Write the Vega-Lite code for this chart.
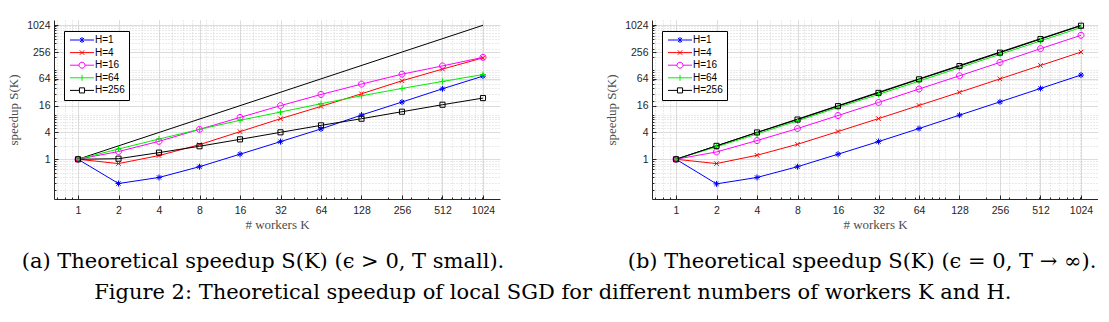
{
  "$schema": "https://vega.github.io/schema/vega-lite/v6.json",
  "background": "white",
  "padding": {"left": 7, "top": 20, "right": 0, "bottom": 0},
  "bounds": "flush",
  "spacing": 152,
  "title": {"text": "Figure 2: Theoretical speedup of local SGD for different numbers of workers K and H.", "orient": "bottom", "anchor": "middle", "frame": "bounds", "dx": 0, "offset": 10, "font": "DejaVu Serif", "fontSize": 21, "fontWeight": "normal", "color": "#000000"},
  "config": {
    "view": {"stroke": null},
    "axis": {"labelFont": "Liberation Sans", "labelFontSize": 10.5, "labelColor": "#262626", "titleFont": "Liberation Serif", "titleFontSize": 13, "titleFontWeight": "normal", "titleColor": "#4d4d4d", "domainColor": "#262626", "tickColor": "#262626"},
    "legend": {"labelFont": "Liberation Sans", "labelFontSize": 10, "labelColor": "#000000"}
  },
  "resolve": {"legend": {"color": "independent", "shape": "independent"}},
  "datasets": {
    "ideal": [{"K": 1, "S": 1}, {"K": 1024, "S": 1024}],
    "a": [
      {"series": "H=1", "K": 1, "S": 1}, {"series": "H=1", "K": 2, "S": 0.285}, {"series": "H=1", "K": 4, "S": 0.39}, {"series": "H=1", "K": 8, "S": 0.68}, {"series": "H=1", "K": 16, "S": 1.3}, {"series": "H=1", "K": 32, "S": 2.49}, {"series": "H=1", "K": 64, "S": 4.8}, {"series": "H=1", "K": 128, "S": 9.85}, {"series": "H=1", "K": 256, "S": 19.3}, {"series": "H=1", "K": 512, "S": 38.3}, {"series": "H=1", "K": 1024, "S": 73.7},
      {"series": "H=4", "K": 1, "S": 1}, {"series": "H=4", "K": 2, "S": 0.8}, {"series": "H=4", "K": 4, "S": 1.21}, {"series": "H=4", "K": 8, "S": 2.13}, {"series": "H=4", "K": 16, "S": 4.17}, {"series": "H=4", "K": 32, "S": 8.15}, {"series": "H=4", "K": 64, "S": 15.4}, {"series": "H=4", "K": 128, "S": 29.6}, {"series": "H=4", "K": 256, "S": 58}, {"series": "H=4", "K": 512, "S": 106}, {"series": "H=4", "K": 1024, "S": 190},
      {"series": "H=16", "K": 1, "S": 1}, {"series": "H=16", "K": 2, "S": 1.49}, {"series": "H=16", "K": 4, "S": 2.53}, {"series": "H=16", "K": 8, "S": 4.7}, {"series": "H=16", "K": 16, "S": 8.7}, {"series": "H=16", "K": 32, "S": 16}, {"series": "H=16", "K": 64, "S": 28.6}, {"series": "H=16", "K": 128, "S": 48.8}, {"series": "H=16", "K": 256, "S": 81.6}, {"series": "H=16", "K": 512, "S": 125}, {"series": "H=16", "K": 1024, "S": 195},
      {"series": "H=64", "K": 1, "S": 1}, {"series": "H=64", "K": 2, "S": 1.7}, {"series": "H=64", "K": 4, "S": 2.85}, {"series": "H=64", "K": 8, "S": 4.7}, {"series": "H=64", "K": 16, "S": 7.5}, {"series": "H=64", "K": 32, "S": 11.5}, {"series": "H=64", "K": 64, "S": 17.7}, {"series": "H=64", "K": 128, "S": 26.7}, {"series": "H=64", "K": 256, "S": 39}, {"series": "H=64", "K": 512, "S": 56}, {"series": "H=64", "K": 1024, "S": 80},
      {"series": "H=256", "K": 1, "S": 1}, {"series": "H=256", "K": 2, "S": 1.03}, {"series": "H=256", "K": 4, "S": 1.41}, {"series": "H=256", "K": 8, "S": 1.96}, {"series": "H=256", "K": 16, "S": 2.8}, {"series": "H=256", "K": 32, "S": 4.03}, {"series": "H=256", "K": 64, "S": 5.78}, {"series": "H=256", "K": 128, "S": 8.15}, {"series": "H=256", "K": 256, "S": 11.7}, {"series": "H=256", "K": 512, "S": 16.8}, {"series": "H=256", "K": 1024, "S": 23.7}
    ],
    "b": [
      {"series": "H=1", "K": 1, "S": 1}, {"series": "H=1", "K": 2, "S": 0.28}, {"series": "H=1", "K": 4, "S": 0.39}, {"series": "H=1", "K": 8, "S": 0.68}, {"series": "H=1", "K": 16, "S": 1.3}, {"series": "H=1", "K": 32, "S": 2.5}, {"series": "H=1", "K": 64, "S": 4.9}, {"series": "H=1", "K": 128, "S": 9.8}, {"series": "H=1", "K": 256, "S": 19.5}, {"series": "H=1", "K": 512, "S": 39}, {"series": "H=1", "K": 1024, "S": 78},
      {"series": "H=4", "K": 1, "S": 1}, {"series": "H=4", "K": 2, "S": 0.8}, {"series": "H=4", "K": 4, "S": 1.23}, {"series": "H=4", "K": 8, "S": 2.17}, {"series": "H=4", "K": 16, "S": 4.2}, {"series": "H=4", "K": 32, "S": 8.2}, {"series": "H=4", "K": 64, "S": 16.2}, {"series": "H=4", "K": 128, "S": 32}, {"series": "H=4", "K": 256, "S": 64}, {"series": "H=4", "K": 512, "S": 128}, {"series": "H=4", "K": 1024, "S": 256},
      {"series": "H=16", "K": 1, "S": 1}, {"series": "H=16", "K": 2, "S": 1.46}, {"series": "H=16", "K": 4, "S": 2.63}, {"series": "H=16", "K": 8, "S": 4.9}, {"series": "H=16", "K": 16, "S": 9.6}, {"series": "H=16", "K": 32, "S": 18.9}, {"series": "H=16", "K": 64, "S": 37.8}, {"series": "H=16", "K": 128, "S": 75}, {"series": "H=16", "K": 256, "S": 150}, {"series": "H=16", "K": 512, "S": 305}, {"series": "H=16", "K": 1024, "S": 610},
      {"series": "H=64", "K": 1, "S": 1}, {"series": "H=64", "K": 2, "S": 1.9}, {"series": "H=64", "K": 4, "S": 3.7}, {"series": "H=64", "K": 8, "S": 7.3}, {"series": "H=64", "K": 16, "S": 14.6}, {"series": "H=64", "K": 32, "S": 28.6}, {"series": "H=64", "K": 64, "S": 57}, {"series": "H=64", "K": 128, "S": 114}, {"series": "H=64", "K": 256, "S": 228}, {"series": "H=64", "K": 512, "S": 456}, {"series": "H=64", "K": 1024, "S": 912},
      {"series": "H=256", "K": 1, "S": 1}, {"series": "H=256", "K": 2, "S": 2}, {"series": "H=256", "K": 4, "S": 4}, {"series": "H=256", "K": 8, "S": 7.8}, {"series": "H=256", "K": 16, "S": 15.6}, {"series": "H=256", "K": 32, "S": 31}, {"series": "H=256", "K": 64, "S": 62.5}, {"series": "H=256", "K": 128, "S": 124}, {"series": "H=256", "K": 256, "S": 248}, {"series": "H=256", "K": 512, "S": 500}, {"series": "H=256", "K": 1024, "S": 1000}
    ]
  },
  "hconcat": [
    {
      "width": 446,
      "height": 179,
      "title": {"text": "(a) Theoretical speedup S(K) (ϵ > 0, T small).", "orient": "bottom", "anchor": "middle", "frame": "group", "dx": -14, "offset": 19, "font": "DejaVu Serif", "fontSize": 21, "fontWeight": "normal", "color": "#000000"},
      "resolve": {"axis": {"x": "independent", "y": "independent"}, "scale": {"shape": "independent"}, "legend": {"color": "independent", "shape": "independent"}},
      "layer": [
        {
          "data": {"name": "ideal"},
          "mark": {"type": "line", "color": "#000000", "strokeWidth": 1},
          "encoding": {
            "x": {"field": "K", "type": "quantitative", "scale": {"type": "log", "base": 2, "domain": [0.663, 1370], "nice": false}, "axis": {"orient": "bottom", "values": [0.7,0.8,0.9,1,2,3,4,5,6,7,8,9,10,20,30,40,50,60,70,80,90,100,200,300,400,500,600,700,800,900,1000], "grid": true, "gridDash": [1, 2], "gridColor": "#c4c4c4", "gridWidth": 0.7, "labels": false, "domain": false, "ticks": true, "tickSize": -2, "title": null}},
            "y": {"field": "S", "type": "quantitative", "scale": {"type": "log", "base": 2, "domain": [0.128, 1345], "nice": false}, "axis": {"orient": "left", "values": [0.2,0.3,0.4,0.5,0.6,0.7,0.8,0.9,1,2,3,4,5,6,7,8,9,10,20,30,40,50,60,70,80,90,100,200,300,400,500,600,700,800,900,1000], "grid": true, "gridDash": [1, 2], "gridColor": "#c4c4c4", "gridWidth": 0.7, "labels": false, "domain": false, "ticks": true, "tickSize": -2, "title": null}}
          }
        },
        {
          "data": {"name": "a"},
          "mark": {"type": "line", "strokeWidth": 1},
          "encoding": {
            "x": {"field": "K", "type": "quantitative", "axis": {"orient": "bottom", "values": [1,2,4,8,16,32,64,128,256,512,1024], "format": "d", "grid": true, "gridColor": "#dcdcdc", "gridWidth": 1, "tickSize": -4, "labelPadding": 10, "labelFlush": false, "labelOverlap": false, "title": "# workers K", "titlePadding": 3}},
            "y": {"field": "S", "type": "quantitative", "axis": {"orient": "left", "values": [1,4,16,64,256,1024], "format": "d", "grid": true, "gridColor": "#dcdcdc", "gridWidth": 1, "tickSize": -4, "labelPadding": 8, "labelFlush": false, "labelOverlap": false, "title": "speedup S(K)", "titlePadding": 6}},
            "color": {"field": "series", "type": "nominal", "scale": {"domain": ["H=1","H=4","H=16","H=64","H=256"], "range": ["#0000ff","#ff0000","#ff00ff","#00ee00","#000000"]}, "legend": null},
            "detail": {"field": "series"}
          }
        },
        {
          "data": {"name": "a"},
          "mark": {"type": "point", "filled": false, "strokeWidth": 1, "size": 36, "opacity": 1},
          "encoding": {
            "x": {"field": "K", "type": "quantitative", "axis": null},
            "y": {"field": "S", "type": "quantitative", "axis": null},
            "color": {"field": "series", "type": "nominal", "legend": null},
            "shape": {"field": "series", "type": "nominal", "scale": {"domain": ["H=1","H=4","H=16","H=64","H=256"], "range": ["M-1,0L1,0M0,-1L0,1M-0.7,-0.7L0.7,0.7M-0.7,0.7L0.7,-0.7", "M-0.75,-0.75L0.75,0.75M-0.75,0.75L0.75,-0.75", "M1,0A1,1,0,1,1,-1,0A1,1,0,1,1,1,0Z", "M-1,0L1,0M0,-1L0,1", "M-0.85,-0.85L0.85,-0.85L0.85,0.85L-0.85,0.85Z"]}, "legend": null}
          }
        },
        {
          "data": {"name": "a"},
          "transform": [{"filter": "false"}],
          "mark": {"type": "point", "filled": false, "strokeWidth": 1, "size": 36, "opacity": 1},
          "encoding": {
            "x": {"field": "K", "type": "quantitative", "axis": null},
            "y": {"field": "S", "type": "quantitative", "axis": null},
            "color": {"field": "series", "type": "nominal", "legend": {"title": null, "orient": "none", "legendX": 10, "legendY": 11, "strokeColor": "#000000", "fillColor": "#ffffff", "padding": 4, "symbolSize": 36, "symbolStrokeWidth": 1, "symbolOpacity": 1, "symbolOffset": 9, "labelOffset": 8, "rowPadding": 2.6}},
            "shape": {"field": "series", "type": "nominal", "scale": {"domain": ["H=1","H=4","H=16","H=64","H=256"], "range": ["M-4,0L4,0M0,-1L0,1M-0.7,-0.7L0.7,0.7M-0.7,0.7L0.7,-0.7", "M-4,0L4,0M-0.75,-0.75L0.75,0.75M-0.75,0.75L0.75,-0.75", "M-4,0L-1,0M1,0L4,0M1,0A1,1,0,1,1,-1,0A1,1,0,1,1,1,0Z", "M-4,0L4,0M0,-1L0,1", "M-4,0L-0.85,0M0.85,0L4,0M-0.85,-0.85L0.85,-0.85L0.85,0.85L-0.85,0.85Z"]}, "legend": {"title": null, "orient": "none", "legendX": 10, "legendY": 11, "strokeColor": "#000000", "fillColor": "#ffffff", "padding": 4, "symbolSize": 36, "symbolStrokeWidth": 1, "symbolOpacity": 1, "symbolOffset": 9, "labelOffset": 8, "rowPadding": 2.6}}
          }
        }
      ]
    },
    {
      "width": 446,
      "height": 179,
      "title": {"text": "(b) Theoretical speedup S(K) (ϵ = 0, T → ∞).", "orient": "bottom", "anchor": "middle", "frame": "group", "dx": -13, "offset": 19, "font": "DejaVu Serif", "fontSize": 21, "fontWeight": "normal", "color": "#000000"},
      "resolve": {"axis": {"x": "independent", "y": "independent"}, "scale": {"shape": "independent"}, "legend": {"color": "independent", "shape": "independent"}},
      "layer": [
        {
          "data": {"name": "ideal"},
          "mark": {"type": "line", "color": "#000000", "strokeWidth": 1},
          "encoding": {
            "x": {"field": "K", "type": "quantitative", "scale": {"type": "log", "base": 2, "domain": [0.663, 1370], "nice": false}, "axis": {"orient": "bottom", "values": [0.7,0.8,0.9,1,2,3,4,5,6,7,8,9,10,20,30,40,50,60,70,80,90,100,200,300,400,500,600,700,800,900,1000], "grid": true, "gridDash": [1, 2], "gridColor": "#c4c4c4", "gridWidth": 0.7, "labels": false, "domain": false, "ticks": true, "tickSize": -2, "title": null}},
            "y": {"field": "S", "type": "quantitative", "scale": {"type": "log", "base": 2, "domain": [0.128, 1345], "nice": false}, "axis": {"orient": "left", "values": [0.2,0.3,0.4,0.5,0.6,0.7,0.8,0.9,1,2,3,4,5,6,7,8,9,10,20,30,40,50,60,70,80,90,100,200,300,400,500,600,700,800,900,1000], "grid": true, "gridDash": [1, 2], "gridColor": "#c4c4c4", "gridWidth": 0.7, "labels": false, "domain": false, "ticks": true, "tickSize": -2, "title": null}}
          }
        },
        {
          "data": {"name": "b"},
          "mark": {"type": "line", "strokeWidth": 1},
          "encoding": {
            "x": {"field": "K", "type": "quantitative", "axis": {"orient": "bottom", "values": [1,2,4,8,16,32,64,128,256,512,1024], "format": "d", "grid": true, "gridColor": "#dcdcdc", "gridWidth": 1, "tickSize": -4, "labelPadding": 10, "labelFlush": false, "labelOverlap": false, "title": "# workers K", "titlePadding": 3}},
            "y": {"field": "S", "type": "quantitative", "axis": {"orient": "left", "values": [1,4,16,64,256,1024], "format": "d", "grid": true, "gridColor": "#dcdcdc", "gridWidth": 1, "tickSize": -4, "labelPadding": 8, "labelFlush": false, "labelOverlap": false, "title": "speedup S(K)", "titlePadding": 6}},
            "color": {"field": "series", "type": "nominal", "scale": {"domain": ["H=1","H=4","H=16","H=64","H=256"], "range": ["#0000ff","#ff0000","#ff00ff","#00ee00","#000000"]}, "legend": null},
            "detail": {"field": "series"}
          }
        },
        {
          "data": {"name": "b"},
          "mark": {"type": "point", "filled": false, "strokeWidth": 1, "size": 36, "opacity": 1},
          "encoding": {
            "x": {"field": "K", "type": "quantitative", "axis": null},
            "y": {"field": "S", "type": "quantitative", "axis": null},
            "color": {"field": "series", "type": "nominal", "legend": null},
            "shape": {"field": "series", "type": "nominal", "scale": {"domain": ["H=1","H=4","H=16","H=64","H=256"], "range": ["M-1,0L1,0M0,-1L0,1M-0.7,-0.7L0.7,0.7M-0.7,0.7L0.7,-0.7", "M-0.75,-0.75L0.75,0.75M-0.75,0.75L0.75,-0.75", "M1,0A1,1,0,1,1,-1,0A1,1,0,1,1,1,0Z", "M-1,0L1,0M0,-1L0,1", "M-0.85,-0.85L0.85,-0.85L0.85,0.85L-0.85,0.85Z"]}, "legend": null}
          }
        },
        {
          "data": {"name": "b"},
          "transform": [{"filter": "false"}],
          "mark": {"type": "point", "filled": false, "strokeWidth": 1, "size": 36, "opacity": 1},
          "encoding": {
            "x": {"field": "K", "type": "quantitative", "axis": null},
            "y": {"field": "S", "type": "quantitative", "axis": null},
            "color": {"field": "series", "type": "nominal", "legend": {"title": null, "orient": "none", "legendX": 10, "legendY": 11, "strokeColor": "#000000", "fillColor": "#ffffff", "padding": 4, "symbolSize": 36, "symbolStrokeWidth": 1, "symbolOpacity": 1, "symbolOffset": 9, "labelOffset": 8, "rowPadding": 2.6}},
            "shape": {"field": "series", "type": "nominal", "scale": {"domain": ["H=1","H=4","H=16","H=64","H=256"], "range": ["M-4,0L4,0M0,-1L0,1M-0.7,-0.7L0.7,0.7M-0.7,0.7L0.7,-0.7", "M-4,0L4,0M-0.75,-0.75L0.75,0.75M-0.75,0.75L0.75,-0.75", "M-4,0L-1,0M1,0L4,0M1,0A1,1,0,1,1,-1,0A1,1,0,1,1,1,0Z", "M-4,0L4,0M0,-1L0,1", "M-4,0L-0.85,0M0.85,0L4,0M-0.85,-0.85L0.85,-0.85L0.85,0.85L-0.85,0.85Z"]}, "legend": {"title": null, "orient": "none", "legendX": 10, "legendY": 11, "strokeColor": "#000000", "fillColor": "#ffffff", "padding": 4, "symbolSize": 36, "symbolStrokeWidth": 1, "symbolOpacity": 1, "symbolOffset": 9, "labelOffset": 8, "rowPadding": 2.6}}
          }
        }
      ]
    }
  ]
}
